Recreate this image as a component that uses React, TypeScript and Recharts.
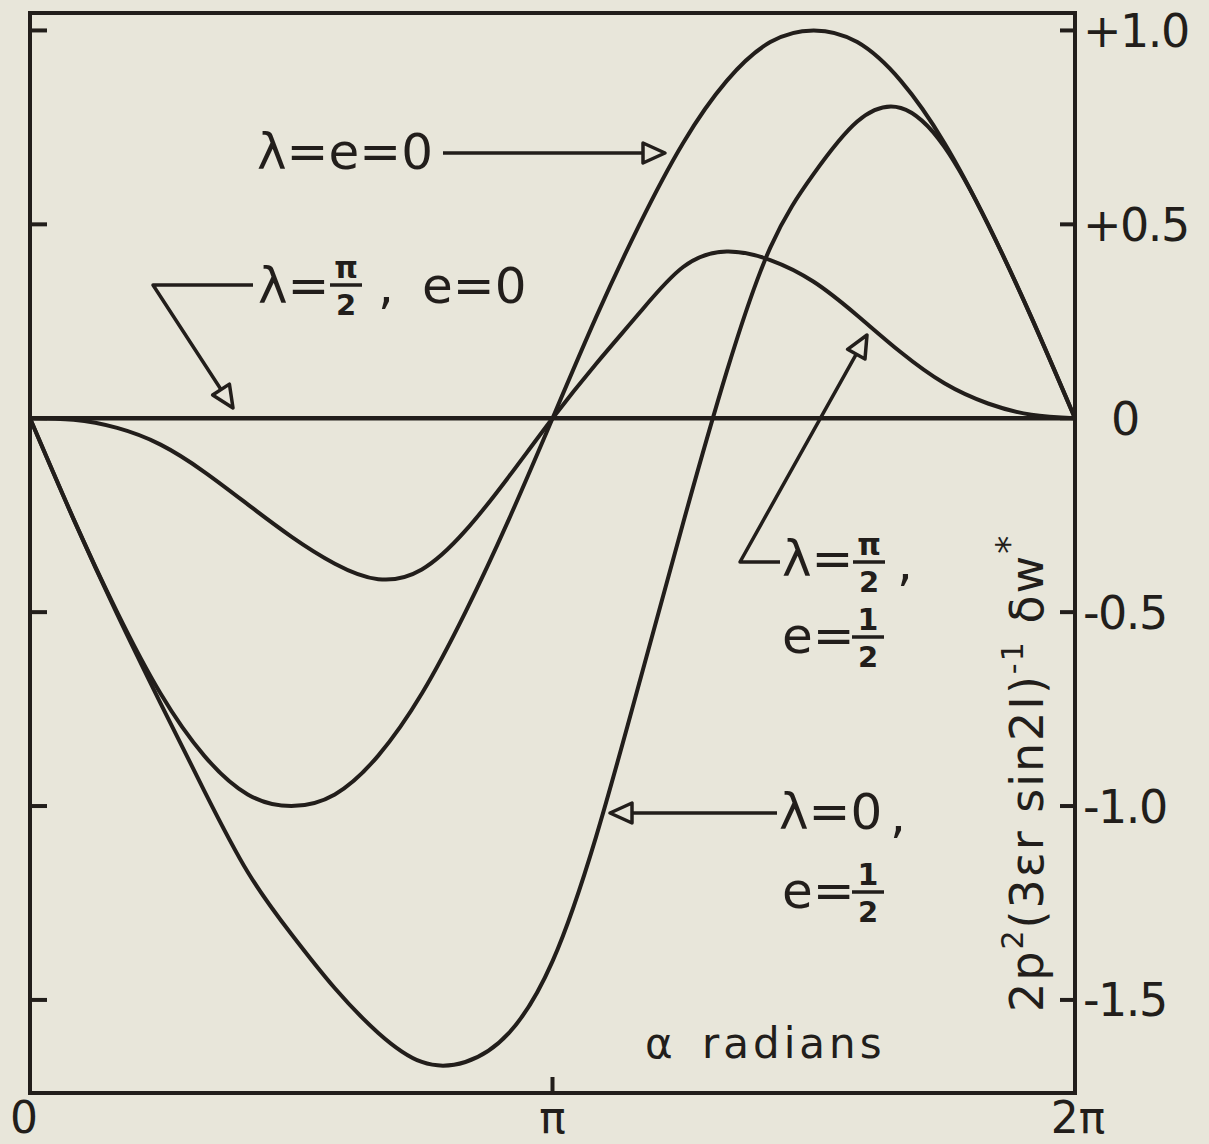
import React from "react";
import { LineChart, Line, XAxis, YAxis } from "recharts";

// alpha in radians, sampled every pi/12
const ALPHA = [
  0, 0.262, 0.524, 0.785, 1.047, 1.309, 1.571, 1.833, 2.094, 2.356, 2.618, 2.88, 3.142,
  3.403, 3.665, 3.927, 4.189, 4.451, 4.712, 4.974, 5.236, 5.498, 5.76, 6.021, 6.283,
];

// values
const LAMBDA_0_E_0 = [
  0, -0.26, -0.5, -0.71, -0.87, -0.97, -1.0, -0.97, -0.87, -0.71, -0.5, -0.26, 0,
  0.26, 0.5, 0.71, 0.87, 0.97, 1.0, 0.97, 0.87, 0.71, 0.5, 0.26, 0,
];
const LAMBDA_0_E_HALF = [
  0, -0.26, -0.505, -0.735, -0.96, -1.17, -1.33, -1.47, -1.585, -1.66, -1.66, -1.585, -1.4,
  -1.08, -0.68, -0.27, 0.12, 0.44, 0.63, 0.765, 0.8, 0.7, 0.5, 0.26, 0,
];
const LAMBDA_PI2_E_HALF = [
  0, -0.004, -0.025, -0.068, -0.138, -0.222, -0.305, -0.375, -0.415, -0.39, -0.29, -0.15, 0,
  0.14, 0.272, 0.39, 0.43, 0.408, 0.352, 0.265, 0.17, 0.09, 0.038, 0.009, 0,
];
const LAMBDA_PI2_E_0 = [
  0, 0, 0, 0, 0, 0, 0, 0, 0, 0, 0, 0, 0, 0, 0, 0, 0, 0, 0, 0, 0, 0, 0, 0, 0,
];

const X_TICKS = [0, Math.PI, 2 * Math.PI];
const X_TICK_LABELS = ["0", "π", "2π"];
const Y_TICKS = [1, 0.5, 0, -0.5, -1, -1.5];
const Y_TICK_LABELS = ["+1.0", "+0.5", "0", "-0.5", "-1.0", "-1.5"];

const W = 1209;
const H = 1144;
const PLOT_L = 30;
const PLOT_R = 1075;
const PLOT_T = 13;
const PLOT_B = 1093;
const Y_MIN = -1.74;
const Y_MAX = 1.045;

const INK = "#221e1b";
const PAPER = "#e8e6da";
const FONT = "DejaVu Sans";

const rows = ALPHA.map((a, i) => ({
  alpha: a,
  a: LAMBDA_0_E_HALF[i],
  b: LAMBDA_0_E_0[i],
  c: LAMBDA_PI2_E_HALF[i],
  z: LAMBDA_PI2_E_0[i],
}));

function XTick(props: any) {
  const { x, payload } = props;
  const i = X_TICKS.indexOf(payload.value);
  return (
    <g>
      {i === 1 && (
        <line x1={x} x2={x} y1={PLOT_B} y2={PLOT_B - 16} stroke={INK} strokeWidth={4} />
      )}
      <text
        x={i === 0 ? x - 6 : x + (i === 2 ? 3 : 0)}
        y={PLOT_B + 40}
        textAnchor="middle"
        fontFamily={FONT}
        fontSize={44}
        fill={INK}
      >
        {X_TICK_LABELS[i]}
      </text>
    </g>
  );
}

function YTick(props: any) {
  const { y, payload } = props;
  const i = Y_TICKS.indexOf(payload.value);
  return (
    <g>
      <line x1={PLOT_L} x2={PLOT_L + 17} y1={y} y2={y} stroke={INK} strokeWidth={4} />
      <line x1={PLOT_R - 15} x2={PLOT_R} y1={y} y2={y} stroke={INK} strokeWidth={4} />
      <text
        x={payload.value === 0 ? PLOT_R + 36 : PLOT_R + 8}
        y={y}
        dy="0.36em"
        fontFamily={FONT}
        fontSize={46}
        letterSpacing={-1.5}
        fill={INK}
      >
        {Y_TICK_LABELS[i]}
      </text>
    </g>
  );
}

// open triangle arrow head with a shaft
function Arrow({ pts, tip }: { pts: number[][]; tip: number[] }) {
  const from = pts[pts.length - 1];
  const dx = tip[0] - from[0];
  const dy = tip[1] - from[1];
  const len = Math.hypot(dx, dy);
  const ux = dx / len;
  const uy = dy / len;
  const bx = tip[0] - ux * 22;
  const by = tip[1] - uy * 22;
  const tri = [
    [tip[0], tip[1]],
    [bx - uy * 10, by + ux * 10],
    [bx + uy * 10, by - ux * 10],
  ];
  const shaft = [...pts, [bx, by]].map((p) => p.join(",")).join(" ");
  return (
    <g>
      <polyline points={shaft} fill="none" stroke={INK} strokeWidth={3.5} strokeLinejoin="round" />
      <polygon
        points={tri.map((p) => p.join(",")).join(" ")}
        fill={PAPER}
        stroke={INK}
        strokeWidth={3.5}
        strokeLinejoin="round"
      />
    </g>
  );
}

function Frac({ cx, bar, top, bottom }: { cx: number; bar: number; top: string; bottom: string }) {
  return (
    <g>
      <text x={cx} y={bar - 7} textAnchor="middle" fontFamily={FONT} fontWeight="bold" fontSize={30} fill={INK}>
        {top}
      </text>
      <line x1={cx - 16} x2={cx + 16} y1={bar} y2={bar} stroke={INK} strokeWidth={3.5} />
      <text x={cx} y={bar + 30} textAnchor="middle" fontFamily={FONT} fontWeight="bold" fontSize={29} fill={INK}>
        {bottom}
      </text>
    </g>
  );
}

function Label({ x, y, children, size = 50 }: { x: number; y: number; children: any; size?: number }) {
  return (
    <text x={x} y={y} fontFamily={FONT} fontSize={size} fill={INK}>
      {children}
    </text>
  );
}

function Annotations() {
  return (
    <svg
      width={W}
      height={H}
      style={{ position: "absolute", left: 0, top: 0, pointerEvents: "none" }}
    >
      <rect
        x={PLOT_L}
        y={PLOT_T}
        width={PLOT_R - PLOT_L}
        height={PLOT_B - PLOT_T}
        fill="none"
        stroke={INK}
        strokeWidth={4}
      />

      {/* lambda = e = 0 */}
      <Label x={257} y={169}>λ=e=0</Label>
      <Arrow pts={[[443, 153]]} tip={[665, 153]} />

      {/* lambda = pi/2, e = 0 */}
      <Label x={258} y={303}>λ=</Label>
      <Frac cx={346} bar={285} top="π" bottom="2" />
      <Label x={378} y={303}>,</Label>
      <Label x={422} y={303}>e=0</Label>
      <Arrow pts={[[253, 285], [153, 285]]} tip={[233, 408]} />

      {/* lambda = pi/2, e = 1/2 */}
      <Label x={782} y={576}>λ=</Label>
      <Frac cx={869} bar={562} top="π" bottom="2" />
      <Label x={897} y={580}>,</Label>
      <Label x={782} y={653}>e=</Label>
      <Frac cx={868} bar={637} top="1" bottom="2" />
      <Arrow pts={[[780, 562], [740, 562]]} tip={[867, 335]} />

      {/* lambda = 0, e = 1/2 */}
      <Label x={779} y={829}>λ=0</Label>
      <Label x={890} y={832}>,</Label>
      <Label x={782} y={908}>e=</Label>
      <Frac cx={868} bar={892} top="1" bottom="2" />
      <Arrow pts={[[777, 813]]} tip={[610, 813]} />

      {/* axis titles */}
      <Label x={645} y={1058} size={42}>α</Label>
      <text x={702} y={1058} fontFamily={FONT} fontSize={42} letterSpacing={4} fill={INK}>
        radians
      </text>
      <text
        transform="translate(1043,1012) rotate(-90)"
        fontFamily={FONT}
        fontSize={46}
        letterSpacing={2}
        fill={INK}
      >
        2p
        <tspan dy={-20} fontSize={30}>2</tspan>
        <tspan dy={20}>(3εr sin2I)</tspan>
        <tspan dy={-20} fontSize={30}>-1</tspan>
        <tspan dy={20}> δw</tspan>
        <tspan dy={-22} fontSize={36}>*</tspan>
      </text>
    </svg>
  );
}

export default function App() {
  return (
    <div
      style={{
        position: "fixed",
        left: 0,
        top: 0,
        width: W,
        height: H,
        background: PAPER,
        fontFamily: FONT,
      }}
    >
      <LineChart
        width={W}
        height={H}
        data={rows}
        margin={{ top: PLOT_T, right: 0, bottom: 0, left: PLOT_L }}
      >
        <XAxis
          type="number"
          dataKey="alpha"
          domain={[0, 2 * Math.PI]}
          ticks={X_TICKS}
          interval={0}
          height={H - PLOT_B}
          axisLine={false}
          tickLine={false}
          tick={<XTick />}
          allowDataOverflow
        />
        <YAxis
          type="number"
          orientation="right"
          domain={[Y_MIN, Y_MAX]}
          ticks={Y_TICKS}
          interval={0}
          width={W - PLOT_R}
          axisLine={false}
          tickLine={false}
          tick={<YTick />}
          allowDataOverflow
        />
        <Line dataKey="z" type="linear" stroke={INK} strokeWidth={4.5} dot={false} activeDot={false} isAnimationActive={false} />
        <Line dataKey="b" type="natural" stroke={INK} strokeWidth={4} dot={false} activeDot={false} isAnimationActive={false} />
        <Line dataKey="a" type="natural" stroke={INK} strokeWidth={4} dot={false} activeDot={false} isAnimationActive={false} />
        <Line dataKey="c" type="natural" stroke={INK} strokeWidth={4} dot={false} activeDot={false} isAnimationActive={false} />
      </LineChart>
      <Annotations />
    </div>
  );
}
